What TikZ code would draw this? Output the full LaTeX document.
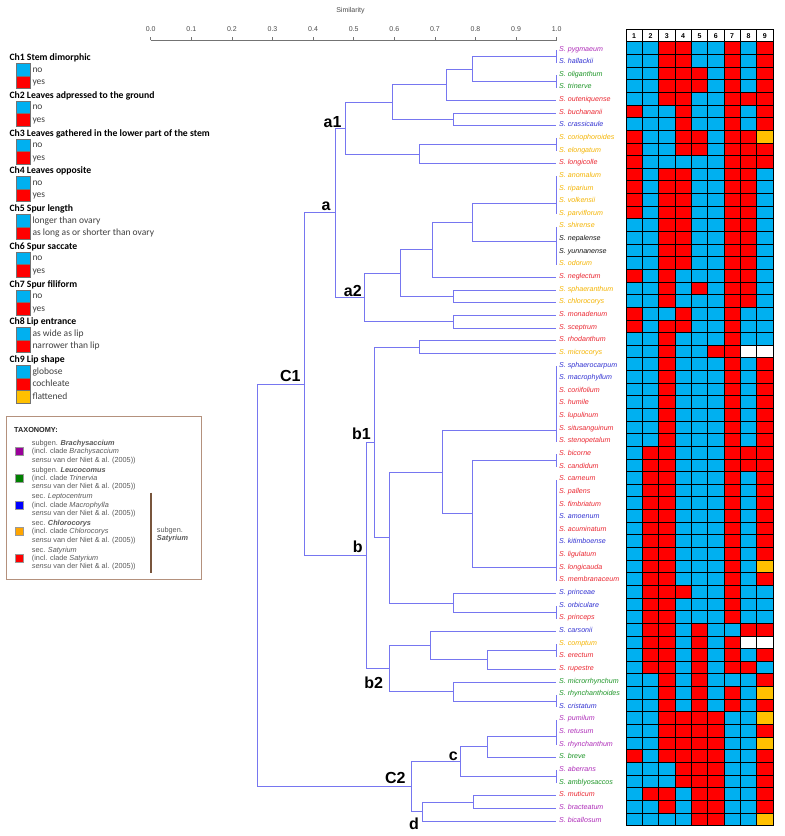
\documentclass[tikz,border=0pt]{standalone}
\usepackage{fontspec}
\setmainfont{Liberation Sans}
\newfontfamily\calfont{Carlito}
% tree and matrix colours
\definecolor{dendro}{RGB}{118,118,240}
\definecolor{cB}{RGB}{0,176,240}
\definecolor{cR}{RGB}{255,0,0}
\definecolor{cY}{RGB}{255,192,0}
\definecolor{cW}{RGB}{255,255,255}
% species name colours
\definecolor{spP}{RGB}{175,45,185}
\definecolor{spB}{RGB}{50,50,210}
\definecolor{spG}{RGB}{30,150,40}
\definecolor{spR}{RGB}{235,40,50}
\definecolor{spO}{RGB}{245,180,0}
\definecolor{spK}{RGB}{20,20,20}
% taxonomy swatches
\definecolor{txP}{RGB}{153,0,153}
\definecolor{txG}{RGB}{0,128,0}
\definecolor{txB}{RGB}{0,0,255}
\definecolor{txO}{RGB}{255,165,0}
\definecolor{txR}{RGB}{255,0,0}
\definecolor{boxc}{RGB}{180,145,125}
\definecolor{barc}{RGB}{120,85,60}

% character states, one row per species (columns Ch1..Ch9)
\def\charrows{%
{B,B,R,R,B,B,R,B,R},{B,B,R,R,B,B,R,B,R},{B,B,R,R,R,B,R,B,R},{B,B,R,R,R,B,R,B,R},%
{B,B,R,R,B,B,R,R,R},{R,B,B,R,B,B,R,B,R},{B,B,B,R,B,B,R,B,R},{R,B,B,R,R,B,R,R,Y},%
{R,B,B,R,R,B,R,R,R},{R,B,B,B,B,B,R,R,R},{R,B,R,R,B,B,R,R,B},{R,B,R,R,B,B,R,R,B},%
{R,B,R,R,B,B,R,R,B},{R,B,R,R,B,B,R,R,B},{B,B,R,R,B,B,R,R,B},{B,B,R,R,B,B,R,R,B},%
{B,B,R,R,B,B,R,R,B},{B,B,R,R,B,B,R,R,B},{R,B,R,B,B,B,R,R,B},{B,B,R,B,R,B,R,R,B},%
{B,B,R,B,B,B,R,R,B},{R,B,B,R,B,B,R,B,B},{R,B,R,R,B,B,R,B,B},{B,B,R,B,B,B,R,B,B},%
{B,B,R,B,B,R,R,W,W},{B,B,R,B,B,B,R,B,R},{B,B,R,B,B,B,R,B,R},{B,B,R,B,B,B,R,B,R},%
{B,B,R,B,B,B,R,B,R},{B,B,R,B,B,B,R,B,R},{B,B,R,B,B,B,R,B,R},{B,B,R,B,B,B,R,B,R},%
{B,R,R,B,B,B,R,R,R},{B,R,R,B,B,B,R,R,R},{B,R,R,B,B,B,R,B,R},{B,R,R,B,B,B,R,B,R},%
{B,R,R,B,B,B,R,B,R},{B,R,R,B,B,B,R,B,R},{B,R,R,B,B,B,R,B,R},{B,R,R,B,B,B,R,B,R},%
{B,R,R,B,B,B,R,B,R},{B,R,R,B,B,B,R,B,Y},{B,R,R,B,B,B,R,B,R},{B,R,R,R,B,B,R,B,B},%
{B,R,R,B,B,B,R,B,B},{B,R,R,B,B,B,R,B,B},{B,R,R,B,R,B,B,R,R},{B,R,R,B,R,B,R,W,W},%
{B,R,R,B,R,B,R,B,R},{B,R,R,B,R,B,R,R,B},{B,B,R,B,R,B,B,B,R},{B,B,R,B,R,B,R,B,Y},%
{B,B,R,B,R,B,R,B,R},{B,B,R,R,R,R,B,B,Y},{B,B,R,R,R,R,B,B,R},{B,B,R,R,R,R,B,B,Y},%
{R,B,R,R,R,R,B,B,R},{B,B,B,R,R,R,B,B,R},{B,B,B,R,R,R,B,B,R},{B,R,R,B,R,R,B,B,R},%
{B,B,R,B,R,R,B,B,R},{B,B,B,B,R,R,B,B,Y}}

\begin{document}
\begin{tikzpicture}[x=1pt,y=-1pt,
  dendro/.style={draw=dendro,line width=0.9pt},
  sp/.style={anchor=base west,inner sep=0pt,font=\fontsize{7.1}{8}\selectfont\itshape},
  clab/.style={inner sep=0pt,font=\fontsize{16}{18}\selectfont\bfseries},
  axl/.style={anchor=base,inner sep=0pt,text=black!70,font=\fontsize{7}{8}\selectfont},
  hd/.style={anchor=base west,inner sep=0pt,font=\calfont\bfseries\fontsize{9.7}{11}\selectfont},
  opt/.style={anchor=base west,inner sep=0pt,text=black!75,font=\calfont\fontsize{9.5}{11}\selectfont},
  swatch/.style={draw=black!55,line width=0.4pt},
  tx/.style={anchor=base west,inner sep=0pt,text=black!65,font=\fontsize{7.3}{8}\selectfont},
  txsw/.style={draw=black!40,line width=0.4pt},
  hdnum/.style={anchor=base,inner sep=0pt,font=\fontsize{7}{8}\selectfont\bfseries}]
\useasboundingbox (0,0) rectangle (785,836);
\fill[white] (0,0) rectangle (785,836);

% ---------- similarity axis ----------
\node[axl] (simtitle) at (350.5,12.8) {Similarity};
\draw[black!55,line width=0.6pt] (150.7,40) -- (556.7,40);
\foreach \k/\lbl in {0/0.0,1/0.1,2/0.2,3/0.3,4/0.4,5/0.5,6/0.6,7/0.7,8/0.8,9/0.9,10/1.0} {
  \pgfmathsetmacro\tx{150.7+\k*40.6}
  \draw[black!55,line width=0.6pt] (\tx,40) -- (\tx,37.3);
  \node[axl] (ax\k) at (\tx,31.5) {\lbl};
}

% ---------- character matrix ----------
\foreach \j in {1,...,9} {
  \pgfmathsetmacro\xl{626+(\j-1)*16.33}
  \draw[fill=white,draw=black,line width=0.5pt] (\xl,29.7) rectangle ++(16.33,12);
  \node[hdnum] (col\j) at (\xl+8.165,38.6) {\j};
}
\foreach \r [count=\i] in \charrows {
  \foreach \c [count=\j] in \r {
    \pgfmathsetmacro\xl{626+(\j-1)*16.33}
    \pgfmathsetmacro\yt{41.7+(\i-1)*12.64}
    \filldraw[fill=c\c,draw=black,line width=0.5pt] (\xl,\yt) rectangle ++(16.33,12.64);
  }
}

% ---------- species names and leaf ends ----------
\foreach \nm/\cl [count=\i] in {
 pygmaeum/spP,hallackii/spB,oliganthum/spG,trinerve/spG,outeniquense/spR,
 buchananii/spR,crassicaule/spB,coriophoroides/spO,elongatum/spO,longicolle/spR,
 anomalum/spO,riparium/spO,volkensii/spO,parviflorum/spO,shirense/spO,
 nepalense/spK,yunnanense/spK,odorum/spO,neglectum/spR,sphaeranthum/spO,
 chlorocorys/spO,monadenum/spR,sceptrum/spR,rhodanthum/spR,microcorys/spO,
 sphaerocarpum/spB,macrophyllum/spB,coriifolium/spR,humile/spR,lupulinum/spR,
 situsanguinum/spR,stenopetalum/spR,bicorne/spR,candidum/spR,carneum/spR,
 pallens/spR,fimbriatum/spR,amoenum/spB,acuminatum/spR,kitimboense/spB,
 ligulatum/spR,longicauda/spR,membranaceum/spR,princeae/spB,orbiculare/spB,
 princeps/spR,carsonii/spB,comptum/spO,erectum/spR,rupestre/spR,
 microrrhynchum/spG,rhynchanthoides/spG,cristatum/spB,pumilum/spP,retusum/spP,
 rhynchanthum/spP,breve/spG,aberrans/spP,amblyosaccos/spG,muticum/spR,
 bracteatum/spP,bicallosum/spP} {
  \pgfmathsetmacro\yb{51+(\i-1)*12.64}
  \node[sp,text=\cl] (sp\i) at (559,\yb) {S. \nm};
  \pgfmathsetmacro\yl{50+(\i-1)*12.64}
  \coordinate (L\i) at (556,\yl);
}

% ---------- dendrogram joins (x = similarity level, y = stem height) ----------
% identical leaves, joined at 1.0
\coordinate (g1) at (556,56.3);
\coordinate (g2) at (556,81.6);
\coordinate (g3) at (556,144.8);
\coordinate (g4) at (556,203);
\coordinate (g5) at (556,241);
\coordinate (g6) at (556,430);
\coordinate (g7) at (556,460.8);
\coordinate (g8) at (556,567);
\coordinate (g9) at (556,612.5);
\coordinate (g10) at (556,650.4);
\coordinate (g11) at (556,701);
\coordinate (g12) at (556,736);
\coordinate (g13) at (556,776.8);
% inner joins
\coordinate (j1) at (472.7,69);
\coordinate (j2) at (446.7,84.8);
\coordinate (j3) at (453.3,119.5);
\coordinate (j4) at (392.3,102.2);
\coordinate (j5) at (419.3,154.3);
\coordinate (ja1) at (345.7,128.2);
\coordinate (j6) at (472.7,222);
\coordinate (j7) at (432.7,249.8);
\coordinate (j8) at (453.3,296.5);
\coordinate (j9) at (400.7,273.1);
\coordinate (j10) at (453.3,321.8);
\coordinate (ja2) at (364.3,297.4);
\coordinate (ja) at (335,212.8);
\coordinate (j11) at (419.3,347);
\coordinate (j12) at (472.7,513.9);
\coordinate (j13) at (442,472);
\coordinate (j14) at (453.3,603);
\coordinate (j15) at (389.3,537.5);
\coordinate (jb1) at (374.3,442.3);
\coordinate (j16) at (487.3,659.9);
\coordinate (j17) at (430.3,645.7);
\coordinate (j18) at (453.3,691.5);
\coordinate (jb2) at (389.3,668.6);
\coordinate (jb) at (366.7,555.5);
\coordinate (jC1) at (304.3,384.2);
\coordinate (j19) at (487.3,746.9);
\coordinate (jc) at (460,761.9);
\coordinate (j20) at (473.3,802.1);
\coordinate (jd) at (422.3,811.6);
\coordinate (jC2) at (411.3,786.8);
\coordinate (jroot) at (257.3,585.5);

\foreach \p/\q in {
 g1/L1,g1/L2,g2/L3,g2/L4,g3/L8,g3/L9,g4/L11,g4/L14,g5/L15,g5/L18,
 g6/L26,g6/L32,g7/L33,g7/L34,g8/L35,g8/L43,g9/L45,g9/L46,g10/L48,g10/L49,
 g11/L52,g11/L53,g12/L54,g12/L56,g13/L58,g13/L59,
 j1/g1,j1/g2,j2/j1,j2/L5,j3/L6,j3/L7,j4/j2,j4/j3,j5/g3,j5/L10,ja1/j4,ja1/j5,
 j6/g4,j6/g5,j7/j6,j7/L19,j8/L20,j8/L21,j9/j7,j9/j8,j10/L22,j10/L23,
 ja2/j9,ja2/j10,ja/ja1,ja/ja2,
 j11/L24,j11/L25,j12/g7,j12/g8,j13/g6,j13/j12,j14/L44,j14/g9,j15/j13,j15/j14,
 jb1/j11,jb1/j15,j16/g10,j16/L50,j17/L47,j17/j16,j18/L51,j18/g11,
 jb2/j17,jb2/j18,jb/jb1,jb/jb2,jC1/ja,jC1/jb,
 j19/g12,j19/L57,jc/j19,jc/g13,j20/L60,j20/L61,jd/j20,jd/L62,
 jC2/jc,jC2/jd,jroot/jC1,jroot/jC2}
  \draw[dendro] (\p) |- (\q);

% cluster names
\node[clab] (la1) at (332.5,121.7) {a1};
\node[clab] (la) at (326,206) {a};
\node[clab] (la2) at (352.8,290.8) {a2};
\node[clab] (lC1) at (290.3,375.8) {C1};
\node[clab] (lb1) at (361.5,434) {b1};
\node[clab] (lb) at (357.7,547) {b};
\node[clab] (lb2) at (373.7,682.5) {b2};
\node[clab] (lC2) at (395.3,778.3) {C2};
\node[clab] (lc) at (453.2,756.5) {c};
\node[clab] (ld) at (414,824) {d};

% ---------- character legend ----------
\foreach \hdt/\oa/\ob [count=\k from 0] in {
 {Ch1 Stem dimorphic}/no/yes,
 {Ch2 Leaves adpressed to the ground}/no/yes,
 {Ch3 Leaves gathered in the lower part of the stem}/no/yes,
 {Ch4 Leaves opposite}/no/yes,
 {Ch5 Spur length}/{longer than ovary}/{as long as or shorter than ovary},
 {Ch6 Spur saccate}/no/yes,
 {Ch7 Spur filiform}/no/yes,
 {Ch8 Lip entrance}/{as wide as lip}/{narrower than lip},
 {Ch9 Lip shape}/globose/cochleate} {
  \pgfmathsetmacro\bl{60.7+\k*37.75}
  \node[hd] (hd\k) at (9.3,\bl) {\hdt};
  \filldraw[swatch,fill=cB] (16,\bl+2.6) rectangle (30,\bl+15.1);
  \filldraw[swatch,fill=cR] (16,\bl+15.1) rectangle (30,\bl+27.6);
  \node[opt] (oa\k) at (32.3,\bl+11.3) {\oa};
  \node[opt] (ob\k) at (32.3,\bl+23.8) {\ob};
}
\filldraw[swatch,fill=cY] (16,390.3) rectangle (30,402.8);
\node[opt] (oc8) at (32.3,399.5) {flattened};

% ---------- taxonomy key ----------
\draw[boxc,line width=0.8pt] (6.7,416) rectangle (201.7,579.3);
\node[anchor=base west,inner sep=0pt,text=black!85,font=\fontsize{7.3}{8}\selectfont\bfseries] (taxhd) at (14,432.3) {TAXONOMY:};
\foreach \cl/\la/\lb [count=\k from 0] in {
 txP/{subgen. \textbf{\textit{Brachysaccium}}}/{(incl. clade \textit{Brachysaccium}},
 txG/{subgen. \textbf{\textit{Leucocomus}}}/{(incl. clade \textit{Trinervia}},
 txB/{sec. \textit{Leptocentrum}}/{(incl. clade \textit{Macrophylla}},
 txO/{sec. \textbf{\textit{Chlorocorys}}}/{(incl. clade \textit{Chlorocorys}},
 txR/{sec. \textit{Satyrium}}/{(incl. clade \textit{Satyrium}}} {
  \pgfmathsetmacro\bl{445.3+\k*26.7}
  \filldraw[txsw,fill=\cl] (15,\bl+2) rectangle (23.3,\bl+10);
  \node[tx] (ta\k) at (31.7,\bl) {\la};
  \node[tx] (tb\k) at (31.7,\bl+8.4) {\lb};
  \node[tx] (tc\k) at (31.7,\bl+16.8) {\textit{sensu} van der Niet \& al. (2005))};
}
\draw[barc,line width=1.6pt] (151,492.7) -- (151,572.7);
\node[tx] (subg) at (156.7,532.7) {subgen.};
\node[tx] (subgn) at (156.7,540.8) {\textbf{\textit{Satyrium}}};
\end{tikzpicture}
\end{document}
